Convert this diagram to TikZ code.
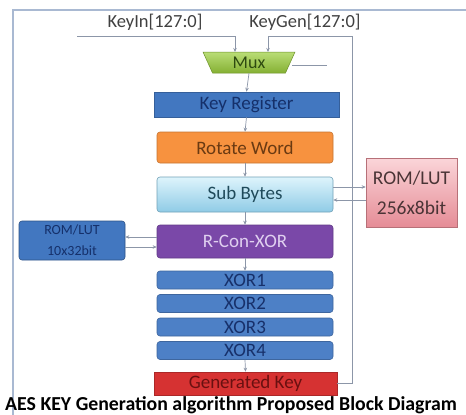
\documentclass[tikz,border=0pt]{standalone}
\usepackage{fontspec}
\setmainfont{Carlito}
\usetikzlibrary{shapes.geometric,arrows.meta}
\definecolor{frm}{HTML}{A9B9D2}
\definecolor{lin}{HTML}{8C96A8}
\definecolor{muxg}{HTML}{9CCF3C}
\definecolor{muxt}{HTML}{2E4A10}
\definecolor{kreg}{HTML}{4277C0}
\definecolor{kregt}{HTML}{15306A}
\definecolor{rotf}{HTML}{F7923F}
\definecolor{rott}{HTML}{6A3A12}
\definecolor{subf}{HTML}{C8EDFA}
\definecolor{subd}{HTML}{8FCBE6}
\definecolor{subt}{HTML}{1F4A5A}
\definecolor{romf}{HTML}{F9C3C8}
\definecolor{romd}{HTML}{E58C96}
\definecolor{romt}{HTML}{4A3436}
\definecolor{rcon}{HTML}{7A48A8}
\definecolor{rcont}{HTML}{E0D0F0}
\definecolor{xorf}{HTML}{4D80C6}
\definecolor{xort}{HTML}{17306A}
\definecolor{genf}{HTML}{D63232}
\definecolor{gent}{HTML}{6A1010}
\tikzset{
  blk/.style={rectangle, minimum width=176pt, inner sep=0pt, font=\fontsize{19}{21}\selectfont, draw=#1!80!black, line width=0.6pt},
  rbox/.style={rounded corners=3pt},
  conn/.style={draw=lin, line width=0.7pt},
  arr/.style={conn, -{Stealth[length=4pt,width=3.5pt]}},
  lbl/.style={font=\fontsize{18.5}{20}\selectfont, text=black!75, inner sep=0pt}
}
\begin{document}
\begin{tikzpicture}[x=1pt,y=-1pt]
\useasboundingbox (0,0) rectangle (466,415);
\clip (0,0) rectangle (466,415);
\fill[white] (0,0) rectangle (466,415);
% frame
\draw[frm, line width=1.6pt] (13,10) rectangle (490,430);
% labels
\node[lbl] (kin) at (155,22) {KeyIn[127:0]};
\node[lbl] (kgen) at (305,22) {KeyGen[127:0]};
% Mux
\node[trapezium, trapezium angle=70, shape border rotate=180, trapezium stretches=true,
  minimum width=92pt, minimum height=21pt, inner sep=0pt,
  top color=muxg!70!white, bottom color=muxg!85!black, draw=muxg!70!black, line width=0.5pt,
  text=muxt, font=\fontsize{18}{20}\selectfont] (mux) at (249,62.5) {Mux};
% blocks
\node[blk=kreg, fill=kreg, text=kregt, minimum width=185pt, minimum height=25pt] (kr) at (246.5,104.5) {Key Register};
\node[blk=rotf, rbox, fill=rotf, text=rott, minimum height=31pt] (rw) at (245,147.5) {Rotate Word};
\node[blk=subd, rbox, top color=subf!60!white, bottom color=subd, text=subt, minimum height=35pt] (sb) at (245,194.5) {Sub Bytes};
\node[blk=rcon, rbox, fill=rcon, text=rcont, minimum height=33pt] (rc) at (245,241.5) {R-Con-XOR};
\node[blk=xorf, rbox, fill=xorf, text=xort, minimum height=18pt] (x1) at (245,280) {XOR1};
\node[blk=xorf, rbox, fill=xorf, text=xort, minimum height=18pt] (x2) at (245,303.5) {XOR2};
\node[blk=xorf, rbox, fill=xorf, text=xort, minimum height=18pt] (x3) at (245,327) {XOR3};
\node[blk=xorf, rbox, fill=xorf, text=xort, minimum height=18pt] (x4) at (245,350.5) {XOR4};
\node[blk=genf, fill=genf, text=gent, minimum width=183pt, minimum height=23pt] (gk) at (245.5,383.5) {Generated Key};
% ROMs
\node[rectangle, minimum width=91pt, minimum height=69pt, inner sep=0pt, align=center,
  top color=romf!70!white, bottom color=romd, draw=romd!80!black, line width=0.5pt,
  text=romt, font=\fontsize{19.5}{30}\selectfont] (rom1) at (411.5,192.5) {ROM/LUT\\256x8bit};
\node[rectangle, rbox, minimum width=106pt, minimum height=39pt, inner sep=0pt, align=center,
  fill=kreg, draw=kreg!70!black, line width=0.6pt,
  text=kregt, font=\fontsize{14}{21}\selectfont] (rom2) at (72,240.5) {ROM/LUT\\10x32bit};
% inputs
\coordinate (kinL) at (77,36);
\coordinate (kgR) at (352,36);
\draw[arr] (kinL) -- (235,36) -- (235,52);
\draw[arr] (gk.east) -- (352,383.5) -- (kgR) -- (268,36) -- (268,52);
% mux select
\coordinate (muxr) at (292,65);
\coordinate (sel) at (327,65);
\draw[conn] (muxr) -- (sel);
% vertical flow
\draw[arr] (mux.south) -- (kr.north);
\draw[arr] (kr.south) -- (rw.north);
\draw[arr] (rw.south) -- (sb.north);
\draw[arr] (sb.south) -- (rc.north);
\draw[arr] (rc.south) -- (x1.north);
\draw[arr] (x4.south) -- (gk.north);
% ROM arrows
\coordinate (sbA) at ([yshift=7.5pt]sb.east);
\coordinate (sbB) at ([yshift=-5.5pt]sb.east);
\coordinate (rcA) at ([yshift=4.5pt]rc.west);
\coordinate (rcB) at ([yshift=-5.5pt]rc.west);
\draw[arr] (sbA) -- (sbA -| rom1.west);
\draw[arr] (sbB -| rom1.west) -- (sbB);
\draw[arr] (rcA) -- (rcA -| rom2.east);
\draw[arr] (rcB -| rom2.east) -- (rcB);
% title
\node[font=\bfseries\fontsize{19.8}{22}\selectfont, inner sep=0pt, anchor=west] (title) at (5,405) {AES KEY Generation algorithm Proposed Block Diagram};
\end{tikzpicture}
\end{document}
